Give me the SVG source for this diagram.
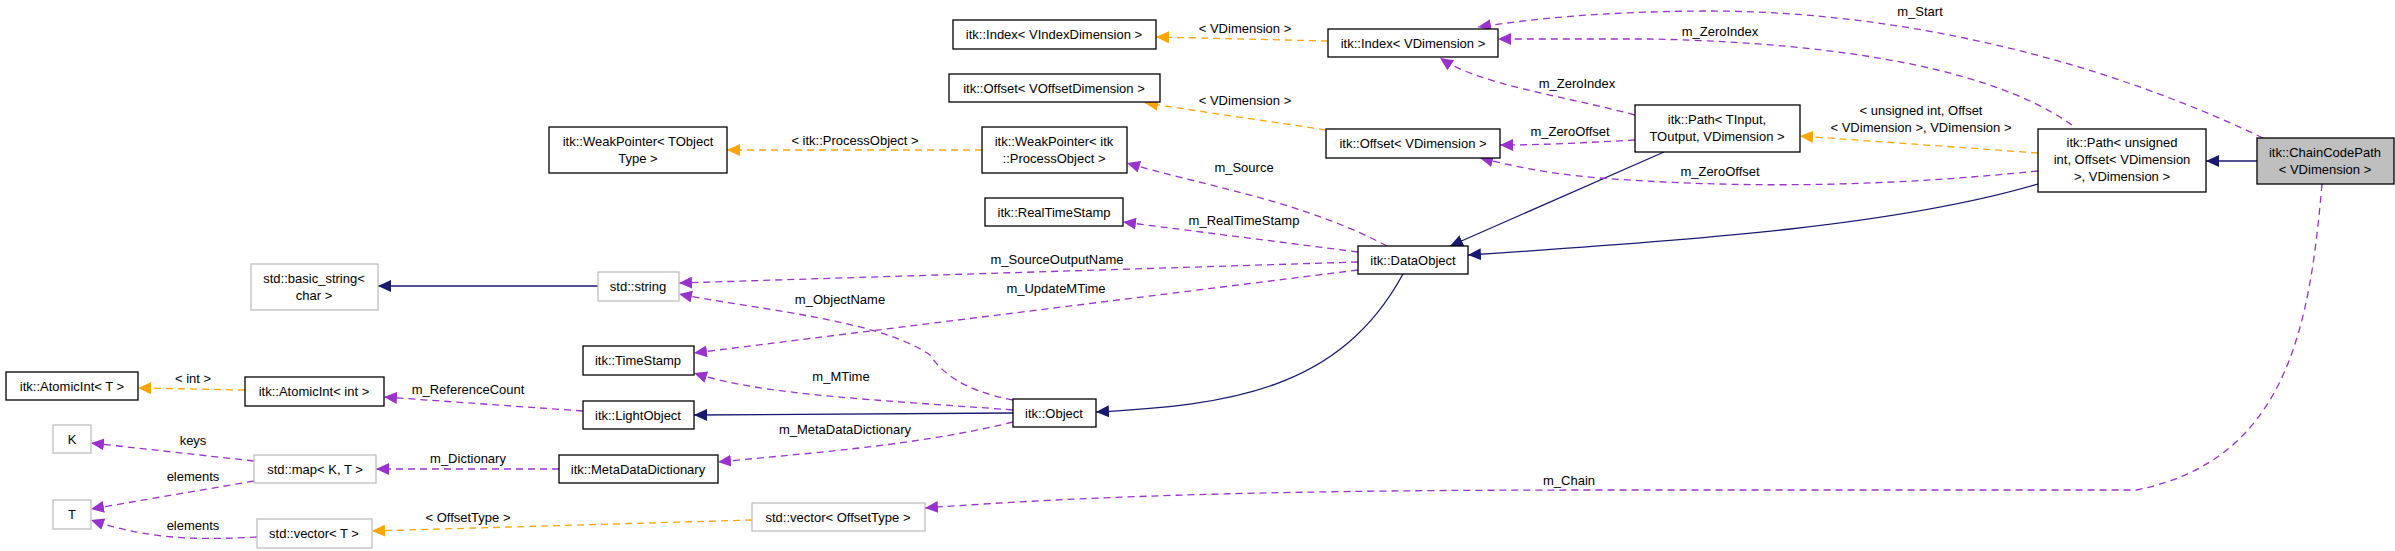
<svg xmlns="http://www.w3.org/2000/svg" width="2395" height="551" viewBox="0 0 2395 551">
<style>
.n rect{fill:#fff;stroke:#000;stroke-width:1.3}
.g rect{fill:#fff;stroke:#bfbfbf;stroke-width:1.3}
.cur rect{fill:#bfbfbf;stroke:#000;stroke-width:1.3}
text{font-family:"Liberation Sans",Arial,sans-serif;font-size:13px;fill:#000;text-anchor:middle}
.e path{fill:none;stroke-width:1.3}
.inh{stroke:#191970}
.mem{stroke:#9a32cd;stroke-dasharray:7,5}
.tpl{stroke:#ffa500;stroke-dasharray:7,5}
</style>
<defs>
<marker id="an" markerWidth="14" markerHeight="12" refX="13" refY="6" orient="auto" markerUnits="userSpaceOnUse"><path d="M0,0L13,6L0,12z" fill="#191970"/></marker>
<marker id="ap" markerWidth="14" markerHeight="12" refX="13" refY="6" orient="auto" markerUnits="userSpaceOnUse"><path d="M0,0L13,6L0,12z" fill="#9a32cd"/></marker>
<marker id="ao" markerWidth="14" markerHeight="12" refX="13" refY="6" orient="auto" markerUnits="userSpaceOnUse"><path d="M0,0L13,6L0,12z" fill="#ffa500"/></marker>
</defs>
<g id="edges" class="e">
<path class="inh" marker-end="url(#an)" d="M2257,161L2206,161"/>
<path class="tpl" marker-end="url(#ao)" d="M2038,153L1800,136"/>
<path class="inh" marker-end="url(#an)" d="M2038,184C1900,225 1700,240 1468,255"/>
<path class="inh" marker-end="url(#an)" d="M1664,152L1450,246"/>
<path class="inh" marker-end="url(#an)" d="M1403,274C1340,390 1230,405 1096,412"/>
<path class="inh" marker-end="url(#an)" d="M1013,413L694,415"/>
<path class="inh" marker-end="url(#an)" d="M598,286L378,286"/>
<path class="mem" marker-end="url(#ap)" d="M2263,138C2100,60 1900,10 1702,11C1600,12 1540,18 1478,27"/>
<path class="mem" marker-end="url(#ap)" d="M2072,125C1980,60 1800,42 1650,39L1498,39"/>
<path class="mem" marker-end="url(#ap)" d="M1635,115C1560,95 1480,85 1440,58"/>
<path class="mem" marker-end="url(#ap)" d="M1635,140C1580,143 1540,145 1500,145"/>
<path class="mem" marker-end="url(#ap)" d="M2038,171C1900,185 1760,190 1600,178C1560,175 1520,168 1480,158"/>
<path class="tpl" marker-end="url(#ao)" d="M1328,41L1156,37"/>
<path class="tpl" marker-end="url(#ao)" d="M1326,130L1145,103"/>
<path class="tpl" marker-end="url(#ao)" d="M982,150L727,150"/>
<path class="mem" marker-end="url(#ap)" d="M1387,246C1300,200 1200,185 1127,163"/>
<path class="mem" marker-end="url(#ap)" d="M1358,252L1123,222"/>
<path class="mem" marker-end="url(#ap)" d="M1358,262L679,283"/>
<path class="mem" marker-end="url(#ap)" d="M1358,270L694,353"/>
<path class="mem" marker-end="url(#ap)" d="M1013,400C960,390 940,370 930,355C880,320 760,310 679,294"/>
<path class="mem" marker-end="url(#ap)" d="M1013,410C880,400 760,395 694,373"/>
<path class="mem" marker-end="url(#ap)" d="M1013,422C920,445 820,452 718,462"/>
<path class="mem" marker-end="url(#ap)" d="M583,411L384,397"/>
<path class="tpl" marker-end="url(#ao)" d="M245,390L138,388"/>
<path class="mem" marker-end="url(#ap)" d="M559,469L376,469"/>
<path class="mem" marker-end="url(#ap)" d="M254,461L91,443"/>
<path class="mem" marker-end="url(#ap)" d="M254,481L91,509"/>
<path class="mem" marker-end="url(#ap)" d="M257,537C200,540 150,540 91,520"/>
<path class="tpl" marker-end="url(#ao)" d="M752,520L372,531"/>
<path class="mem" marker-end="url(#ap)" d="M2322,184C2310,320 2290,460 2136,490L1600,490C1300,490 1100,495 925,508"/>
<text x="1920" y="16">m_Start</text>
<text x="1720" y="36">m_ZeroIndex</text>
<text x="1577" y="88">m_ZeroIndex</text>
<text x="1570" y="136">m_ZeroOffset</text>
<text x="1720" y="176">m_ZeroOffset</text>
<text x="1921" y="115">&lt; unsigned int, Offset</text>
<text x="1921" y="132">&lt; VDimension &gt;, VDimension &gt;</text>
<text x="1245" y="33">&lt; VDimension &gt;</text>
<text x="1245" y="105">&lt; VDimension &gt;</text>
<text x="855" y="145">&lt; itk::ProcessObject &gt;</text>
<text x="1244" y="172">m_Source</text>
<text x="1244" y="225">m_RealTimeStamp</text>
<text x="1057" y="264">m_SourceOutputName</text>
<text x="1056" y="293">m_UpdateMTime</text>
<text x="840" y="304">m_ObjectName</text>
<text x="841" y="381">m_MTime</text>
<text x="845" y="434">m_MetaDataDictionary</text>
<text x="468" y="394">m_ReferenceCount</text>
<text x="193" y="383">&lt; int &gt;</text>
<text x="468" y="463">m_Dictionary</text>
<text x="193" y="445">keys</text>
<text x="193" y="481">elements</text>
<text x="193" y="530">elements</text>
<text x="468" y="522">&lt; OffsetType &gt;</text>
<text x="1569" y="485">m_Chain</text>
</g>
<g id="chaincodepath" class="cur"><rect x="2257" y="138" width="137" height="46"/><text x="2325" y="157">itk::ChainCodePath</text><text x="2325" y="174">&lt; VDimension &gt;</text></g>
<g id="path_unsigned" class="n"><rect x="2038" y="129" width="168" height="63"/><text x="2122" y="147">itk::Path&lt; unsigned</text><text x="2122" y="164">int, Offset&lt; VDimension</text><text x="2122" y="181">&gt;, VDimension &gt;</text></g>
<g id="path_tinput" class="n"><rect x="1635" y="105" width="165" height="47"/><text x="1717" y="124">itk::Path&lt; TInput,</text><text x="1717" y="141">TOutput, VDimension &gt;</text></g>
<g id="index_vdim" class="n"><rect x="1328" y="29" width="170" height="28"/><text x="1413" y="48">itk::Index&lt; VDimension &gt;</text></g>
<g id="index_vidx" class="n"><rect x="953" y="20" width="203" height="29"/><text x="1054" y="39">itk::Index&lt; VIndexDimension &gt;</text></g>
<g id="offset_voff" class="n"><rect x="949" y="74" width="211" height="28"/><text x="1054" y="93">itk::Offset&lt; VOffsetDimension &gt;</text></g>
<g id="offset_vdim" class="n"><rect x="1326" y="129" width="174" height="29"/><text x="1413" y="148">itk::Offset&lt; VDimension &gt;</text></g>
<g id="weak_po" class="n"><rect x="982" y="127" width="145" height="46"/><text x="1054" y="146">itk::WeakPointer&lt; itk</text><text x="1054" y="163">::ProcessObject &gt;</text></g>
<g id="weak_t" class="n"><rect x="549" y="127" width="178" height="46"/><text x="638" y="146">itk::WeakPointer&lt; TObject</text><text x="638" y="163">Type &gt;</text></g>
<g id="realtimestamp" class="n"><rect x="985" y="198" width="138" height="28"/><text x="1054" y="217">itk::RealTimeStamp</text></g>
<g id="dataobject" class="n"><rect x="1358" y="246" width="110" height="28"/><text x="1413" y="265">itk::DataObject</text></g>
<g id="object" class="n"><rect x="1013" y="399" width="83" height="28"/><text x="1054" y="418">itk::Object</text></g>
<g id="basic_string" class="g"><rect x="251" y="264" width="127" height="46"/><text x="314" y="283">std::basic_string&lt;</text><text x="314" y="300">char &gt;</text></g>
<g id="stdstring" class="g"><rect x="598" y="272" width="81" height="29"/><text x="638" y="291">std::string</text></g>
<g id="timestamp" class="n"><rect x="583" y="346" width="111" height="29"/><text x="638" y="365">itk::TimeStamp</text></g>
<g id="atomic_t" class="n"><rect x="6" y="372" width="132" height="28"/><text x="72" y="391">itk::AtomicInt&lt; T &gt;</text></g>
<g id="atomic_int" class="n"><rect x="245" y="377" width="139" height="29"/><text x="314" y="396">itk::AtomicInt&lt; int &gt;</text></g>
<g id="lightobject" class="n"><rect x="583" y="401" width="111" height="28"/><text x="638" y="420">itk::LightObject</text></g>
<g id="metadict" class="n"><rect x="559" y="455" width="159" height="28"/><text x="638" y="474">itk::MetaDataDictionary</text></g>
<g id="k" class="g"><rect x="53" y="425" width="38" height="28"/><text x="72" y="444">K</text></g>
<g id="map" class="g"><rect x="254" y="455" width="122" height="28"/><text x="315" y="474">std::map&lt; K, T &gt;</text></g>
<g id="t" class="g"><rect x="53" y="500" width="38" height="29"/><text x="72" y="519">T</text></g>
<g id="vector_t" class="g"><rect x="257" y="519" width="115" height="29"/><text x="314" y="538">std::vector&lt; T &gt;</text></g>
<g id="vector_off" class="g"><rect x="752" y="503" width="173" height="28"/><text x="838" y="522">std::vector&lt; OffsetType &gt;</text></g>
</svg>
